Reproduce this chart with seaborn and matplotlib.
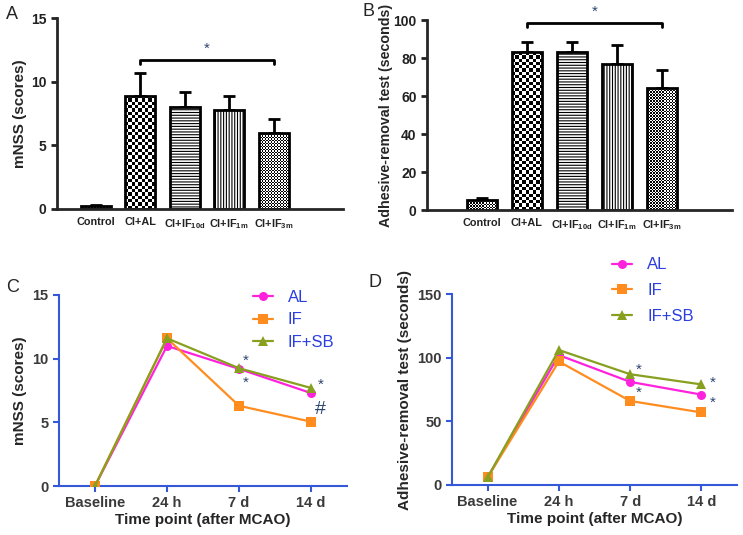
import numpy as np
import pandas as pd
import seaborn as sns
import matplotlib.pyplot as plt

sns.set_style("ticks")
plt.rcParams['font.family'] = ['Liberation Sans', 'DejaVu Sans']
plt.rcParams['mathtext.fontset'] = 'custom'
plt.rcParams['mathtext.rm'] = 'Liberation Sans:bold'
plt.rcParams['mathtext.bf'] = 'Liberation Sans:bold'
plt.rcParams['hatch.linewidth'] = 0.8

# Data - bar panels
groups = ["Control", "CI+AL", "CI+IF$_{\\mathrm{10d}}$", "CI+IF$_{\\mathrm{1m}}$", "CI+IF$_{\\mathrm{3m}}$"]
mnss_mean = [0.2, 8.9, 8.0, 7.8, 6.0]
mnss_err = [0.1, 1.8, 1.2, 1.1, 1.1]
adh_mean = [5.5, 83, 83, 77, 64]
adh_err = [1.0, 5.5, 5.5, 10, 9.5]

# Data - time course panels
timepoints = ["Baseline", "24 h", "7 d", "14 d"]
series = ["AL", "IF", "IF+SB"]
mnss_al = [0, 11.0, 9.2, 7.3]
mnss_if = [0, 11.6, 6.3, 5.05]
mnss_sb = [0, 11.6, 9.25, 7.7]
adh_al = [6, 102, 81, 71]
adh_if = [6, 97, 66, 57]
adh_sb = [6, 106, 87, 79]

# Styles (fill for each bar)
fills = ["fine", "coarse", "------", "||||||", "fine"]
line_colors = {"AL": "#ff22dd", "IF": "#ff8c1f", "IF+SB": "#88a020"}
line_markers = {"AL": "o", "IF": "s", "IF+SB": "^"}
blue = "#3558d8"
star_col = "#2c4470"

fig = plt.figure(figsize=(7.43, 5.35), dpi=100)
W, H = 743, 535


def axes_px(l, r, t, b):
    return fig.add_axes([l / W, 1 - b / H, (r - l) / W, (b - t) / H])


axA = axes_px(57, 343, 18, 209)
axB = axes_px(427, 732, 20, 210)
axC = axes_px(59, 347, 295, 486)
axD = axes_px(452, 737, 294, 485)


def bar_panel(ax, means, errs, ylabel, ylsize, ylpad, ymax, yticks, xlim, bracket_y, drop):
    df = pd.DataFrame({"group": groups, "value": means})
    sns.barplot(data=df, x="group", y="value", order=groups, color="white",
                edgecolor="black", linewidth=2, width=0.67, ax=ax, zorder=2)
    bars = list(ax.containers[0])
    xs = [p.get_x() + p.get_width() / 2 for p in bars]
    ax.errorbar(xs, means, yerr=[np.zeros(len(errs)), errs], fmt="none",
                ecolor="black", elinewidth=2, capsize=4.5, capthick=2, zorder=1)
    for p, f in zip(bars, fills):
        if f in ("------", "||||||"):
            p.set_hatch(f)
    ax.set_xlim(*xlim)
    ax.set_ylim(0, ymax)
    ax.set_yticks(yticks)
    ax.set_xlabel("")
    ax.set_ylabel(ylabel, fontsize=ylsize, fontweight="bold", labelpad=ylpad)
    ax.tick_params(axis="y", width=2, length=4, labelsize=10, colors="#222222")
    ax.tick_params(axis="x", length=0, labelsize=7.8, pad=6, colors="#222222")
    for lab in ax.get_xticklabels() + ax.get_yticklabels():
        lab.set_fontweight("bold")
    for s in ("left", "bottom"):
        ax.spines[s].set_linewidth(2)
    sns.despine(ax=ax)
    # bracket
    x1, x2 = xs[1], xs[4]
    ax.plot([x1, x1, x2, x2], [bracket_y - drop, bracket_y, bracket_y, bracket_y - drop],
            color="black", lw=2, clip_on=False)
    ax.text((x1 + x2) / 2, bracket_y + drop * 1.1, "*", color=star_col,
            ha="center", va="bottom", fontsize=11)
    return bars


barsA = bar_panel(axA, mnss_mean, mnss_err, "mNSS (scores)", 11, 3, 15, [0, 5, 10, 15],
                  (-0.87, 5.56), 11.7, 0.3)
barsB = bar_panel(axB, adh_mean, adh_err, "Adhesive-removal test (seconds)", 10.3, 0.5, 100,
                  [0, 20, 40, 60, 80, 100], (-1.22, 5.56), 98.3, 2.0)

# checkerboard fills
fig.canvas.draw()
for ax, bars in ((axA, barsA), (axB, barsB)):
    xl, yl = ax.get_xlim(), ax.get_ylim()
    for p, f in zip(bars, fills):
        if f not in ("fine", "coarse"):
            continue
        cell = 1.5 if f == "fine" else 3.3
        bb = p.get_window_extent()
        nx = max(1, int(round(bb.width / cell)))
        ny = max(1, int(round(bb.height / cell)))
        arr = np.add.outer(np.arange(ny), np.arange(nx)) % 2
        x0, w, h = p.get_x(), p.get_width(), p.get_height()
        im = ax.imshow(arr, extent=[x0, x0 + w, 0, h], cmap="gray", vmin=0, vmax=1,
                       aspect="auto", interpolation="nearest", zorder=1.5)
        im.set_clip_path(p)
        p.set_facecolor("none")
    ax.set_xlim(*xl)
    ax.set_ylim(*yl)


def line_panel(ax, al, iff, sb, ylabel, ymax, yticks, notes, leg_anchor, spacing):
    rows = []
    for name, vals in zip(series, (al, iff, sb)):
        for t, v in zip(timepoints, vals):
            rows.append({"time": t, "value": v, "group": name})
    df = pd.DataFrame(rows)
    df["pos"] = df["time"].map({t: i for i, t in enumerate(timepoints)})
    for name in series:
        sub = df[df["group"] == name]
        sns.lineplot(data=sub, x="pos", y="value", ax=ax, color=line_colors[name],
                     marker=line_markers[name], markersize=6.5, markeredgewidth=0,
                     linewidth=1.6, label=name, zorder=3 if name != "IF+SB" else 4)
    ax.set_xlim(-0.5, 3.5)
    ax.set_ylim(0, ymax)
    ax.set_yticks(yticks)
    ax.set_xticks(range(len(timepoints)))
    ax.set_xticklabels(timepoints)
    ax.set_xlabel("Time point (after MCAO)", fontsize=11, fontweight="bold", labelpad=2)
    ax.set_ylabel(ylabel, fontsize=11, fontweight="bold")
    ax.tick_params(width=1.5, length=4, colors=blue, labelcolor="#3a3a3a", labelsize=10.5)
    for lab in ax.get_xticklabels() + ax.get_yticklabels():
        lab.set_fontweight("bold")
    for s in ("left", "bottom"):
        ax.spines[s].set_linewidth(1.5)
        ax.spines[s].set_color(blue)
    sns.despine(ax=ax)
    leg = ax.legend(loc="upper left", bbox_to_anchor=leg_anchor, frameon=False,
                    fontsize=12, handlelength=1.2, labelspacing=spacing, handletextpad=0.9)
    for t in leg.get_texts():
        t.set_color("#2b3ee0")
    for (x, y, dx, dy, s) in notes:
        ax.annotate(s, xy=(x, y), xytext=(dx, dy), textcoords="offset points",
                    ha="center", va="center", color=star_col,
                    fontsize=14 if s == "#" else 11, annotation_clip=False)


line_panel(axC, mnss_al, mnss_if, mnss_sb, "mNSS (scores)", 15, [0, 5, 10, 15],
           [(2, mnss_sb[2], 5, 5, "*"), (2, mnss_al[2], 5, -10, "*"),
            (3, mnss_sb[3], 7, 2, "*"), (3, mnss_al[3], 7, -12, "#")],
           (0.62, 1.105), 0.45)
line_panel(axD, adh_al, adh_if, adh_sb, "Adhesive-removal test (seconds)", 150,
           [0, 50, 100, 150],
           [(2, adh_sb[2], 6, 3, "*"), (2, adh_al[2], 6, -8, "*"),
            (3, adh_sb[3], 8, 1, "*"), (3, adh_al[3], 8, -6, "*")],
           (0.51, 1.27), 0.65)

for lab, x, y in (("A", 6, 6), ("B", 362, 3), ("C", 6, 279), ("D", 369, 274)):
    fig.text(x / W, 1 - y / H, lab, fontsize=13, va="top", ha="left")

fig.savefig("out.png", dpi=100)
